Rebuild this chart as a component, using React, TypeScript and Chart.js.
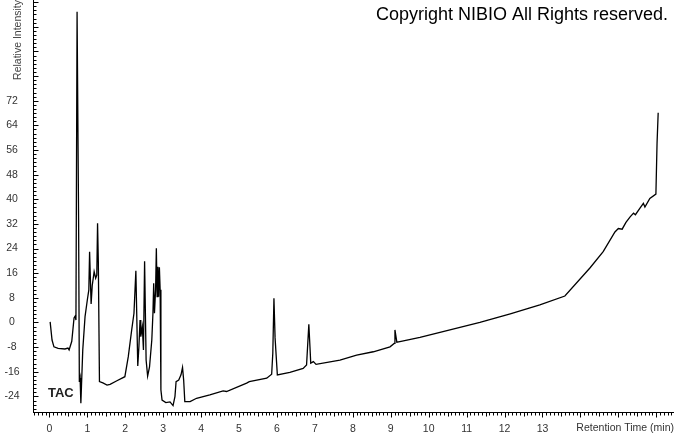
import React, { useEffect, useRef } from 'react';
import { Chart, registerables } from 'chart.js';

Chart.register(...registerables);

// Retention time (min)
const times = [
  0.02, 0.07, 0.12, 0.23, 0.41, 0.49, 0.52, 0.59, 0.65, 0.68, 0.70,
  0.73, 0.75, 0.77, 0.79, 0.81, 0.83, 0.88, 0.94, 1.00, 1.04, 1.06,
  1.10, 1.13, 1.18, 1.22, 1.25, 1.27, 1.29, 1.32, 1.41, 1.52, 1.60,
  1.78, 1.99, 2.08, 2.17, 2.23, 2.28, 2.33, 2.36, 2.39, 2.41, 2.45,
  2.48, 2.51, 2.55, 2.59, 2.64, 2.70, 2.73, 2.75, 2.77, 2.80, 2.82,
  2.84, 2.86, 2.88, 2.90, 2.92, 2.94, 2.97, 3.07, 3.18, 3.26, 3.31,
  3.34, 3.41, 3.47, 3.51, 3.54, 3.57, 3.71, 3.88, 4.23, 4.58, 4.67,
  5.20, 5.27, 5.73, 5.86, 5.89, 5.92, 5.95, 6.01, 6.34, 6.69, 6.78,
  6.84, 6.87, 6.89, 6.96, 7.03, 7.66, 8.10, 8.54, 8.98, 9.09, 9.11,
  9.16, 9.24, 9.77, 10.56, 11.35, 12.15, 12.93, 13.59, 14.25, 14.60,
  14.91, 15.00, 15.10, 15.20, 15.31, 15.40, 15.45, 15.57, 15.66, 15.70,
  15.83, 15.99, 16.02, 16.05,
];

// Relative intensity
const intensity = [
  0.2, -5.7, -7.9, -8.4, -8.6, -8.3, -8.9, -6.1, 1.5, 2.1, 0.8,
  100.9, 100.9, 33.3, -19.3, -18.0, -26.2, -8.9, 1.9, 7.3, 10.6, 23.0,
  6.0, 12.0, 16.5, 14.4, 15.4, 32.2, 20.0, -19.2, -19.6, -20.3, -20.1,
  -18.9, -17.6, -11.1, -2.4, 3.0, 16.8, -14.1, -7.9, 0.8, -4.6, -1.4,
  -8.9, 19.9, -12.2, -17.4, -14.4, -5.7, 3.0, 12.7, 3.0, 10.6, 24.1,
  8.4, 18.1, 8.4, 17.9, 10.6, -21.9, -25.2, -26.0, -25.8, -27.0, -24.1,
  -19.2, -18.7, -17.0, -14.6, -18.7, -25.7, -25.7, -24.6, -23.5, -22.2, -22.4,
  -19.7, -19.2, -18.1, -16.8, -10.0, 7.9, -5.0, -17.0, -16.2, -14.9, -13.8,
  -0.6, -8.0, -13.2, -12.7, -13.6, -12.2, -10.6, -9.5, -7.9, -6.8, -2.4,
  -6.4, -6.2, -4.8, -2.4, 0.0, 2.8, 5.7, 8.6, 17.7, 23.0,
  29.4, 30.5, 30.3, 32.5, 34.3, 35.5, 35.0, 37.1, 38.7, 37.5,
  40.3, 41.7, 58.2, 68.1,
];

const yTickValues = [-24, -16, -8, 0, 8, 16, 24, 32, 40, 48, 56, 64, 72, 80, 88, 96, 104];
const yLabelMax = 72;
const xTickValues = [0, 1, 2, 3, 4, 5, 6, 7, 8, 9, 10, 11, 12, 13];

const FONT = '"Liberation Sans", Arial, sans-serif';

const axisMarks = {
  id: 'axisMarks',
  afterDraw(chart: any) {
    const { ctx, chartArea, scales } = chart;
    const x = scales.x;
    const y = scales.y;
    ctx.save();
    ctx.strokeStyle = '#000';
    ctx.lineWidth = 1;
    ctx.beginPath();
    // axis lines
    const ax = Math.round(chartArea.left) + 0.5;
    const ay = Math.round(chartArea.bottom) + 0.5;
    ctx.moveTo(ax, chartArea.top);
    ctx.lineTo(ax, ay);
    ctx.lineTo(chartArea.right, ay);
    // y ticks (minor every 8/6)
    const yStep = 8 / 6;
    for (let i = Math.ceil(y.min / yStep); i <= Math.floor(y.max / yStep); i++) {
      const v = i * yStep;
      const py = Math.round(y.getPixelForValue(v)) + 0.5;
      const len = i % 6 === 0 ? 5 : 3;
      ctx.moveTo(ax, py);
      ctx.lineTo(ax + len, py);
    }
    // x ticks (minor every 0.1)
    for (let i = Math.ceil(x.min * 10); i <= Math.floor(x.max * 10); i++) {
      const v = i / 10;
      const px = Math.round(x.getPixelForValue(v)) + 0.5;
      const len = i % 10 === 0 ? 5 : i % 5 === 0 ? 4 : 3;
      ctx.moveTo(px, ay);
      ctx.lineTo(px, ay + len);
    }
    ctx.stroke();
    ctx.restore();
  },
};

const annotations = {
  id: 'annotations',
  afterDraw(chart: any) {
    const { ctx } = chart;
    ctx.save();
    ctx.fillStyle = '#000';
    ctx.textBaseline = 'alphabetic';
    ctx.textAlign = 'right';
    ctx.font = `18px ${FONT}`;
    ctx.fillText('Copyright NIBIO All Rights reserved.', 668, 19.5);
    ctx.textAlign = 'left';
    ctx.font = `bold 13px ${FONT}`;
    ctx.fillStyle = '#222';
    ctx.fillText('TAC', 48, 397);
    ctx.restore();
  },
};

export default function App() {
  const canvasRef = useRef<HTMLCanvasElement | null>(null);

  useEffect(() => {
    document.body.style.margin = '0';
    const canvas = canvasRef.current;
    if (!canvas) return;
    const points = times.map((t, i) => ({ x: t, y: intensity[i] }));
    const chart = new Chart(canvas, {
      type: 'line',
      data: {
        datasets: [
          {
            label: 'TAC',
            data: points,
            borderColor: '#000',
            borderWidth: 1.3,
            pointRadius: 0,
            tension: 0,
            fill: false,
          },
        ],
      },
      options: {
        animation: false,
        responsive: false,
        devicePixelRatio: 1,
        layout: { padding: 0, autoPadding: false },
        plugins: { legend: { display: false }, tooltip: { enabled: false }, title: { display: false } },
        scales: {
          x: {
            type: 'linear',
            position: 'bottom',
            min: -0.432,
            max: 16.467,
            afterBuildTicks: (scale: any) => {
              scale.ticks = xTickValues.map((v) => ({ value: v }));
            },
            afterFit: (scale: any) => {
              scale.height = 22;
              scale.paddingLeft = 0;
              scale.paddingRight = 0;
            },
            grid: { display: false, drawTicks: false },
            border: { display: true, color: '#000', width: 1 },
            ticks: {
              autoSkip: false,
              maxRotation: 0,
              padding: 11,
              color: '#333',
              font: { family: FONT, size: 10.5 },
              callback: (v: any) => String(v),
            },
            title: {
              display: true,
              text: 'Retention Time (min)',
              align: 'end',
              color: '#333',
              font: { family: FONT, size: 10.5 },
              padding: { top: 0, bottom: 0 },
            },
          },
          y: {
            type: 'linear',
            position: 'left',
            min: -29.06,
            max: 104.7,
            afterBuildTicks: (scale: any) => {
              scale.ticks = yTickValues.map((v) => ({ value: v }));
            },
            afterFit: (scale: any) => {
              scale.width = 33;
              scale.paddingTop = 0;
              scale.paddingBottom = 0;
            },
            grid: { display: false, drawTicks: false },
            border: { display: true, color: '#000', width: 1 },
            ticks: {
              autoSkip: false,
              crossAlign: 'center',
              padding: 13.4,
              color: '#333',
              font: { family: FONT, size: 10.5 },
              callback: (v: any) => (Number(v) <= yLabelMax ? String(v) : ''),
            },
            title: {
              display: true,
              text: 'Relative Intensity',
              align: 'end',
              color: '#444',
              font: { family: FONT, size: 10.5 },
              padding: { top: 12, bottom: 0 },
            },
          },
        },
      },
      plugins: [axisMarks, annotations],
    } as any);
    return () => chart.destroy();
  }, []);

  return (
    <div style={{ position: 'fixed', left: 0, top: 0, width: 674, height: 434, background: '#fff' }}>
      <canvas ref={canvasRef} width={674} height={434} style={{ display: 'block' }} />
    </div>
  );
}
